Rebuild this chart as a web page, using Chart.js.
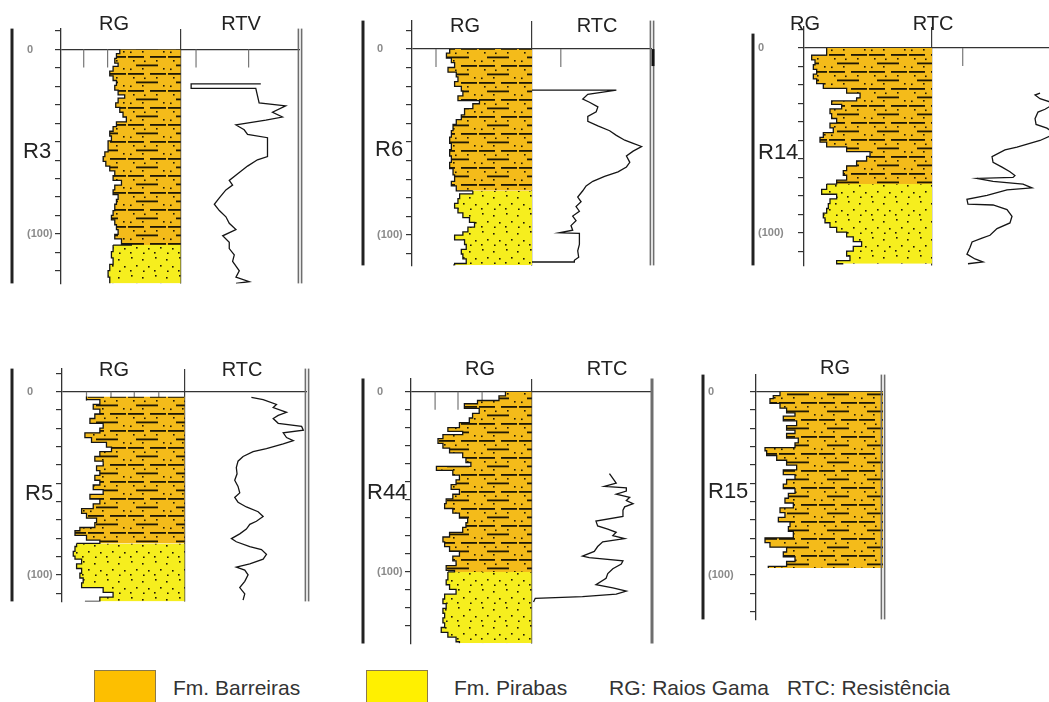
<!DOCTYPE html>
<html>
<head>
<meta charset="utf-8">
<script src="https://cdn.jsdelivr.net/npm/chart.js@4.4.1/dist/chart.umd.min.js"></script>
<style>
  body { margin: 0; width: 1049px; height: 702px; overflow: hidden; background: #fff; position: relative;
         font-family: "Liberation Sans", Arial, sans-serif; }
  canvas { position: absolute; }
  .txt { position: absolute; white-space: nowrap; line-height: 1; color: #222; }
  .head { font-size: 20px; transform: translate(-50%, -50%); }
  .name { font-size: 22px; transform: translateY(-50%); }
  .leg { font-size: 21px; color: #333; transform: translateY(-50%); }
  .box { position: absolute; width: 62px; height: 40px; border: 1px solid #8b7a4a; box-sizing: border-box; }
</style>
</head>
<body>
<script>
// depth in metres (0 at top line), log values in % of track width
const R3_PIRABAS = 106;
const R3_RG_DEPTH = [0, 2.2, 4.8, 7.4, 9.1, 11.7, 14.3, 16.8, 19.4, 22, 24.6, 26.3, 28.9, 31.4, 34, 36.6, 39.2, 41.8, 44.3, 46.9, 49.5, 52.9, 55.5, 58.1, 60.7, 63.2, 65.8, 68.4, 71, 73.5, 76.1, 78.7, 81.3, 83.9, 87.3, 89.9, 92.4, 95, 97.6, 100.2, 102.7, 105.3, 106, 109.6, 113, 116.5, 119.9, 123.4, 126.8];
const R3_RG = [49.2, 46.4, 45, 47.8, 43.6, 40.8, 43.6, 46.4, 45, 47.8, 53.3, 47.8, 45.8, 49.2, 51.9, 54.7, 46.4, 43.6, 40.8, 42.2, 39.4, 39.4, 36.7, 35.3, 37.5, 40.8, 45, 43.6, 50.6, 45, 43.6, 47.8, 46.4, 45, 43.6, 42.2, 45, 46.4, 47.8, 45, 50.6, 58.9, 43.6, 42.2, 43.6, 40.8, 39.4, 40.8, 40.8];
const R3_RTV_DEPTH = [18.6, 18.6, 21.1, 21.1, 28.9, 30.6, 34, 36.6, 38.3, 40.9, 43.5, 46, 47.8, 58, 59.8, 63.2, 66.7, 71, 73.5, 76.1, 80.4, 83.9, 87.3, 90.7, 94.2, 97.6, 101, 104.5, 107.9, 111.3, 114.8, 120, 123.4, 125.9, 126.8];
const R3_RTV = [67.2, 8.9, 8.9, 63, 65.8, 88, 77, 85.3, 71.4, 46.4, 53.3, 56.1, 72.8, 72.8, 64.4, 56.1, 49.2, 40.8, 43.6, 38, 32.5, 28.3, 32.5, 38, 40.8, 46.4, 35.3, 40.8, 40.8, 45, 43.6, 49.2, 46.4, 57.5, 46.4];

const R6_PIRABAS = 76.2;
const R6_RG_DEPTH = [0, 2.2, 4.8, 7.3, 9.9, 12.4, 15, 17.5, 20.1, 22.6, 25.2, 27.7, 29.4, 32, 35.4, 37.9, 40.5, 43.9, 47.3, 50.7, 54.1, 57.5, 60.9, 64.3, 67.7, 71.1, 73.6, 76.2, 77.9, 80.4, 83, 85.5, 88.1, 90.6, 93.2, 95.7, 98.3, 100, 102.6, 105.1, 107.7, 110.2, 112.8, 115.3, 116.2];
const R6_RG = [31.4, 28.7, 32.8, 35.5, 30, 36.9, 38.3, 35.5, 41.1, 42.4, 38.3, 56.2, 50.7, 43.8, 41.1, 36.9, 34.2, 32.8, 31.4, 32.8, 31.4, 32.8, 31.4, 34.2, 35.5, 32.8, 36.9, 50.7, 39.7, 38.3, 35.5, 38.3, 42.4, 47.9, 52.1, 46.6, 42.4, 35.5, 43.8, 45.2, 41.1, 42.4, 45.2, 35.5, 34.2];
const R6_RTC_DEPTH = [22.1, 22.1, 23.1, 24.3, 26.9, 28.6, 31.1, 33.7, 36.2, 38.8, 41.3, 43.9, 46.4, 49, 50.7, 52.4, 54.9, 57.5, 60.9, 63.4, 66, 68.5, 71.1, 73.6, 76.2, 79.6, 82.1, 84.7, 87.2, 89.8, 92.3, 94.9, 97.4, 98.8, 99.1, 101.7, 105.1, 108.5, 111.9, 113.6, 114.5, 114.5];
const R6_RTC = [0, 70.3, 59.1, 46.5, 42.3, 47.9, 54.9, 53.5, 46.5, 46.5, 54.9, 64.7, 70.3, 77.3, 84.3, 91.3, 84.3, 78.7, 81.5, 78.7, 71.7, 60.5, 50.7, 45.1, 42.3, 38.1, 40.9, 36.7, 39.5, 33.9, 36.7, 32.5, 33.9, 22.7, 39.5, 39.5, 39.5, 38.1, 38.9, 35.3, 35.3, 0];

const R14_PIRABAS = 73.7;
const R14_RG_DEPTH = [0, 3.9, 6.5, 9.1, 11.6, 14.2, 16.8, 19.3, 21.9, 24.5, 27, 28.7, 30.5, 33, 35.6, 38.2, 40.7, 43.3, 45.8, 48.4, 51, 53.5, 56.1, 58.7, 61.2, 63.8, 66.4, 68.9, 71.5, 73.7, 76.6, 79.2, 81.7, 84.3, 86.9, 89.4, 92, 94.6, 97.1, 99.7, 102.3, 104.8, 107.4, 110, 112.6, 115.1, 116.8];
const R14_RG = [17.7, 6, 8.6, 7.3, 9.9, 7.3, 9.9, 15.1, 33.3, 43.8, 41.1, 21.6, 29.4, 20.3, 21.6, 25.5, 20.3, 22.9, 15.1, 12.5, 17.7, 33.3, 51.6, 48.9, 41.1, 33.3, 30.7, 33.3, 25.5, 17.7, 13.8, 25.5, 20.3, 19, 17.7, 15.1, 16.4, 20.3, 25.5, 33.3, 38.5, 45, 38.5, 33.3, 35.9, 25.5, 30.7];
const R14_RTC_DEPTH = [24.5, 25.5, 27.5, 30.1, 33.2, 34.7, 38.3, 41.4, 43.4, 46.5, 50.1, 53.7, 55.2, 58.8, 61.9, 64.5, 67, 69.1, 70.1, 70.6, 72.2, 73.7, 75.7, 76.8, 79.8, 81.9, 84.5, 85, 87.5, 91.1, 94.7, 97.8, 101.4, 102.9, 105, 108, 111.6, 114.2, 115.8, 116.8];
const R14_RTC = [84.4, 80.5, 84.4, 96, 88.3, 82.8, 80.5, 81.3, 89.8, 96, 84.4, 66.4, 57, 46.9, 47.7, 54.7, 60.9, 64.8, 63.3, 35.2, 47.7, 71.1, 78.1, 58.6, 43, 27.3, 28.1, 47.7, 58.6, 62.5, 60.9, 50.8, 45.3, 39.1, 31.3, 29.7, 27.3, 33.6, 39.8, 28.1];

const R5_PIRABAS = 82.8;
const R5_RG_DEPTH = [2.6, 4.3, 6.9, 9.5, 12.1, 14.6, 17.2, 19.8, 22.4, 25, 27.6, 30.2, 32.7, 35.3, 37.9, 40.5, 43.1, 45.7, 48.3, 50.9, 53.4, 56, 58.6, 61.2, 63.8, 66.4, 69, 71.5, 74.1, 75.9, 78.4, 81, 82.8, 84.5, 87.1, 89.7, 91.4, 94, 96.5, 99.1, 101.7, 104.3, 106.9, 109.5, 112.1, 114.5];
const R5_RG = [20, 30.9, 25.5, 30.9, 26.8, 22.8, 33.6, 30.9, 18.7, 24.1, 36.3, 40.4, 30.9, 26.8, 33.6, 28.2, 30.9, 26.8, 30.9, 25.5, 33.6, 22.8, 30.9, 25.5, 16, 20, 28.2, 26.8, 14.6, 10.6, 20, 30.9, 11.9, 10.6, 9.2, 10.6, 16, 11.9, 16, 14.6, 17.3, 16, 33.6, 41.7, 30.9, 18.7];
const R5_RTC_DEPTH = [3.1, 4.3, 6.9, 8.6, 11.2, 12.9, 14.6, 17.2, 18.9, 21, 22.4, 25, 26.7, 28.4, 31, 32.7, 35.3, 37.9, 41.4, 44.8, 48.3, 51.7, 55.2, 57.7, 60.3, 62.9, 65.5, 68.1, 70.7, 72.4, 75, 77.6, 80.2, 81.9, 84.5, 86.2, 88.8, 91.4, 94, 95.7, 97.4, 100, 103.5, 106.9, 110.4, 113.8];
const R5_RTC = [54.6, 64.2, 75.1, 72.4, 83.3, 76.5, 72.4, 76.5, 95.6, 97, 80.6, 83.3, 88.8, 80.6, 66.9, 56, 47.8, 43.7, 42.3, 42.9, 41, 43.7, 45.1, 41, 43.7, 50.5, 60.1, 64.2, 58.7, 53.3, 50.5, 45.1, 38.3, 42.3, 53.3, 62.8, 66.9, 64.2, 53.3, 42.3, 49.2, 51.9, 49.2, 45.1, 49.2, 47.8];

const R44_PIRABAS = 100;
const R44_RG_DEPTH = [0, 2.3, 4.9, 6.7, 9.3, 12, 14.6, 17.2, 19.9, 22, 23.8, 26, 28.7, 31.3, 34, 36.6, 39.3, 41.4, 43.7, 46.3, 48.9, 51.6, 54.2, 56.9, 59.5, 62.1, 64.8, 67.4, 70.1, 72.7, 75.3, 78, 80.6, 83.3, 85.9, 88.6, 91.2, 93.8, 96.5, 99.1, 100, 104.4, 107.1, 109.7, 112.3, 115, 117.6, 120.2, 122.9, 125.5, 128.2, 130.8, 133.5, 136.1, 138.7, 139.6];
const R44_RG = [78.4, 73, 55.2, 44.3, 56.6, 51.1, 48.4, 40.2, 30.6, 42.9, 26.5, 22.4, 26.5, 32, 42.9, 45.6, 49.7, 21.1, 34.7, 40.2, 37.4, 33.3, 40.2, 34.7, 29.2, 27.9, 34.7, 40.2, 47, 45.6, 42.9, 32, 26.5, 27.9, 32, 40.2, 34.7, 37.4, 29.2, 36.1, 30.6, 29.2, 32, 37.4, 27.9, 26.5, 29.2, 26.5, 27.9, 26.5, 27.9, 25.1, 30.6, 37.4, 40.2, 40.2];
const R44_RTC_DEPTH = [45.4, 48.1, 50.7, 52.5, 53.3, 55.1, 56.9, 58.6, 60.4, 62.1, 63.9, 65.7, 69.2, 71.8, 74.5, 76.2, 78, 79.8, 81.5, 83.3, 85.9, 88.6, 91.2, 92.1, 93.8, 95.6, 98.2, 100.9, 103.5, 107.1, 108.8, 110.6, 112.3, 113.7, 114.6, 116.7];
const R44_RTC = [64.7, 67.5, 70.3, 60.5, 78.7, 78.7, 70.3, 81.5, 78.7, 84.3, 77.3, 75.9, 75.9, 53.5, 54.9, 63.3, 70.3, 67.5, 77.3, 59.1, 54.9, 52.1, 42.3, 47.9, 75.9, 74.5, 67.5, 63.3, 61.9, 53.5, 67.5, 78.7, 70.3, 42.3, 3.1, 1.7];

const R15_RG_DEPTH = [0, 2.1, 3.8, 6.4, 9, 11.6, 13.3, 15.9, 18.5, 21, 22.8, 25.3, 27.9, 30.5, 32.2, 34.8, 37.4, 40, 42.6, 45.2, 47.8, 50.4, 52.9, 55.5, 58.1, 60.7, 63.3, 65.9, 68.5, 71, 73.6, 76.2, 79.7, 82.3, 84.8, 87.4, 90, 92.6, 95.2, 96.2];
const R15_RG = [18.9, 13.6, 11, 18.9, 24.1, 30.7, 21.5, 32, 24.1, 30.7, 24.1, 33.3, 30.7, 7.1, 8.4, 16.3, 24.1, 32, 21.5, 30.7, 24.1, 21.5, 30.7, 25.5, 22.8, 29.4, 18.9, 22.8, 17.6, 26.8, 25.5, 29.4, 7.1, 11, 24.1, 21.5, 30.7, 24.1, 9.7, 9.7];

const LEGEND_LABELS = ['Fm. Barreiras', 'Fm. Pirabas', 'RG: Raios Gama', 'RTC: Resistência'];

// page layout of each well (pixels)
const WELLS = [
  { name: 'R3', resName: 'RTV', rgDepth: R3_RG_DEPTH, rg: R3_RG, pirabas: R3_PIRABAS, resDepth: R3_RTV_DEPTH, res: R3_RTV,
    box: { outer: 12, ruler: 61, right: 300, top: 22, y0: 44, y100: 238, bottom: 290, labelX: 27, border: 'double' },
    hang: [19, 39, 113, 157], hangLen: 18, heads: [114, 241], headY: 22.5, nameX: 23, nameY: 151 },
  { name: 'R6', resName: 'RTC', rgDepth: R6_RG_DEPTH, rg: R6_RG, pirabas: R6_PIRABAS, resDepth: R6_RTC_DEPTH, res: R6_RTC,
    box: { outer: 363, ruler: 412, right: 652, top: 14, y0: 44, y100: 240, bottom: 272, labelX: 377, border: 'double', mark: true },
    hang: [20, 124], hangLen: 18, heads: [465, 597], headY: 24.5, nameX: 375, nameY: 149 },
  { name: 'R14', resName: 'RTC', rgDepth: R14_RG_DEPTH, rg: R14_RG, pirabas: R14_PIRABAS, resDepth: R14_RTC_DEPTH, res: R14_RTC,
    box: { outer: 753, ruler: 804, right: 1060, top: 20, y0: 42.5, y100: 237.5, bottom: 272, labelX: 758, border: 'none', outerTop: 7 },
    hang: [124], hangLen: 18, heads: [805, 933], headY: 22.5, nameX: 758, nameY: 152 },
  { name: 'R5', resName: 'RTC', rgDepth: R5_RG_DEPTH, rg: R5_RG, pirabas: R5_PIRABAS, resDepth: R5_RTC_DEPTH, res: R5_RTC,
    box: { outer: 12, ruler: 62, right: 307, top: 362, y0: 386.5, y100: 580, bottom: 608, labelX: 27, border: 'double' },
    hang: [20, 40, 59, 79], hangLen: 9, heads: [114, 242], headY: 369, nameX: 25, nameY: 493 },
  { name: 'R44', resName: 'RTC', rgDepth: R44_RG_DEPTH, rg: R44_RG, pirabas: R44_PIRABAS, resDepth: R44_RTC_DEPTH, res: R44_RTC,
    box: { outer: 363, ruler: 411, right: 652, top: 372, y0: 385.7, y100: 575, bottom: 650, labelX: 377, border: 'single' },
    hang: [20, 39, 59], hangLen: 18, heads: [480, 607], headY: 368, nameX: 367, nameY: 492 },
  { name: 'R15', resName: null, rgDepth: R15_RG_DEPTH, rg: R15_RG, pirabas: null, resDepth: null, res: null,
    box: { outer: 703, ruler: 756, right: 883, top: 368, y0: 386, y100: 579.3, bottom: 626, labelX: 708, border: 'double' },
    hang: [], hangLen: 0, heads: [835], headY: 367, nameX: 708, nameY: 491 }
];

Chart.defaults.font.family = '"Liberation Sans", Arial, sans-serif';

function makePattern(base, brick) {
  const c = document.createElement('canvas');
  c.width = brick ? 40 : 24;
  c.height = brick ? 17 : 18;
  const g = c.getContext('2d');
  g.fillStyle = base;
  g.fillRect(0, 0, c.width, c.height);
  g.fillStyle = '#1f1805';
  if (brick) {
    g.fillRect(0, 2, 16, 1.8);
    g.fillRect(22, 2, 16, 1.8);
    g.fillRect(8, 10.5, 22, 1.8);
    [[5, 6], [28, 6], [16, 6.5], [14, 14], [35, 14], [2, 14.5]].forEach(p => g.fillRect(p[0], p[1], 1.6, 1.6));
  } else {
    [[3, 3], [14, 5], [8, 11], [20, 12], [2, 16], [15, 16.5]].forEach(p => g.fillRect(p[0], p[1], 1.6, 1.6));
  }
  return g.createPattern(c, 'repeat');
}

const ORANGE = makePattern('#F4BB1A', true);
const YELLOW = makePattern('#F6EE1E', false);

const framePlugin = {
  id: 'frame',
  beforeDatasetsDraw(chart, args, o) {
    const { ctx, chartArea: a, scales: { x, y } } = chart;
    ctx.save();
    ctx.strokeStyle = '#222';
    ctx.lineWidth = 3;
    ctx.beginPath();
    ctx.moveTo(a.left - o.outerGap, a.top + o.outerTop);
    ctx.lineTo(a.left - o.outerGap, a.bottom);
    ctx.stroke();
    const y0 = y.getPixelForValue(0);
    ctx.strokeStyle = '#777';
    ctx.lineWidth = 1.2;
    o.hang.forEach(v => {
      const px = x.getPixelForValue(v);
      ctx.beginPath();
      ctx.moveTo(px, y0);
      ctx.lineTo(px, y0 + o.hangLen);
      ctx.stroke();
    });
    ctx.restore();
  },
  afterDraw(chart, args, o) {
    const { ctx, chartArea: a, scales: { y } } = chart;
    ctx.save();
    ctx.strokeStyle = '#6e6e6e';
    if (o.border === 'double') {
      ctx.lineWidth = 1.6;
      [-1.6, 1.6].forEach(d => {
        ctx.beginPath();
        ctx.moveTo(a.right + d, a.top);
        ctx.lineTo(a.right + d, a.bottom);
        ctx.stroke();
      });
    } else if (o.border === 'single') {
      ctx.lineWidth = 3;
      ctx.beginPath();
      ctx.moveTo(a.right, a.top);
      ctx.lineTo(a.right, a.bottom);
      ctx.stroke();
    }
    if (o.mark) {
      const y0 = y.getPixelForValue(0);
      ctx.strokeStyle = '#111';
      ctx.lineWidth = 3;
      ctx.beginPath();
      ctx.moveTo(a.right + 1, y0);
      ctx.lineTo(a.right + 1, y0 + 17);
      ctx.stroke();
    }
    ctx.restore();
  }
};

function points(depths, values, shift) {
  return depths.map((d, i) => ({ x: values[i] + shift, y: d }));
}

function addText(cls, text, left, top) {
  const el = document.createElement('div');
  el.className = 'txt ' + cls;
  el.textContent = text;
  el.style.left = left + 'px';
  el.style.top = top + 'px';
  document.body.appendChild(el);
}

WELLS.forEach(w => {
  const b = w.box;
  const cx = b.outer - 4, cy = b.top - 2;
  const cw = b.right + 6 - cx, ch = b.bottom + 2 - cy;
  const canvas = document.createElement('canvas');
  canvas.width = cw;
  canvas.height = ch;
  canvas.style.left = cx + 'px';
  canvas.style.top = cy + 'px';
  document.body.appendChild(canvas);

  const k = (b.y100 - b.y0) / 100;
  const rgAll = points(w.rgDepth, w.rg, 0);
  const datasets = [];
  const rgStyle = { fill: { value: 100 }, borderColor: '#151515', borderWidth: 1.3, stepped: 'after', pointRadius: 0 };
  if (w.pirabas === null) {
    datasets.push(Object.assign({ label: 'Fm. Barreiras', data: rgAll, backgroundColor: ORANGE }, rgStyle));
  } else {
    datasets.push(Object.assign({ label: 'Fm. Barreiras', data: rgAll.filter(p => p.y <= w.pirabas), backgroundColor: ORANGE }, rgStyle));
    datasets.push(Object.assign({ label: 'Fm. Pirabas', data: rgAll.filter(p => p.y >= w.pirabas), backgroundColor: YELLOW }, rgStyle));
  }
  if (w.res) {
    datasets.push({ label: w.resName, data: points(w.resDepth, w.res, 100), borderColor: '#151515', borderWidth: 1.3,
                    fill: false, pointRadius: 0, tension: 0 });
  }

  new Chart(canvas, {
    type: 'line',
    data: { datasets: datasets },
    options: {
      indexAxis: 'y',
      responsive: false,
      animation: false,
      events: [],
      layout: { padding: { left: b.labelX - cx, top: b.top - cy, right: cx + cw - b.right, bottom: cy + ch - b.bottom } },
      plugins: {
        legend: { display: false },
        tooltip: { enabled: false },
        frame: { outerGap: b.ruler - b.outer, outerTop: b.outerTop || 0, border: b.border, mark: !!b.mark, hang: w.hang, hangLen: w.hangLen }
      },
      scales: {
        x: {
          type: 'linear', position: 'top', min: 0, max: w.res ? 200 : 100,
          afterFit: s => { s.height = 0; },
          afterBuildTicks: s => { s.ticks = w.res ? [{ value: 100 }] : []; },
          ticks: { display: false },
          border: { display: false },
          grid: { drawTicks: false, color: '#3a3a3a', lineWidth: 1.2 }
        },
        y: {
          type: 'linear', reverse: true,
          min: -(b.y0 - b.top) / k, max: (b.bottom - b.y0) / k,
          afterFit: s => { s.width = b.ruler - b.labelX; },
          ticks: {
            stepSize: 10, includeBounds: false, autoSkip: false, crossAlign: 'far', padding: 2,
            color: '#8a8a8a', font: { size: 11, weight: 'bold' },
            callback: v => v === 0 ? '0' : (v === 100 ? '(100)' : '')
          },
          grid: {
            drawOnChartArea: true, tickLength: 6, lineWidth: 1.2, tickColor: '#333',
            color: c => (c.tick && c.tick.value === 0) ? '#333' : 'rgba(0,0,0,0)'
          },
          border: { display: true, color: '#333', width: 1.3 }
        }
      }
    },
    plugins: [framePlugin]
  });

  const heads = w.res ? ['RG', w.resName] : ['RG'];
  heads.forEach((t, i) => addText('head', t, w.heads[i], w.headY));
  addText('name', w.name, w.nameX, w.nameY);
});

// legend
[[94, '#FDBF00'], [366, '#FFF000']].forEach(p => {
  const bx = document.createElement('div');
  bx.className = 'box';
  bx.style.left = p[0] + 'px';
  bx.style.top = '670px';
  bx.style.background = p[1];
  document.body.appendChild(bx);
});
[173, 454, 609, 787].forEach((x, i) => addText('leg', LEGEND_LABELS[i], x, 687));
</script>
</body>
</html>
